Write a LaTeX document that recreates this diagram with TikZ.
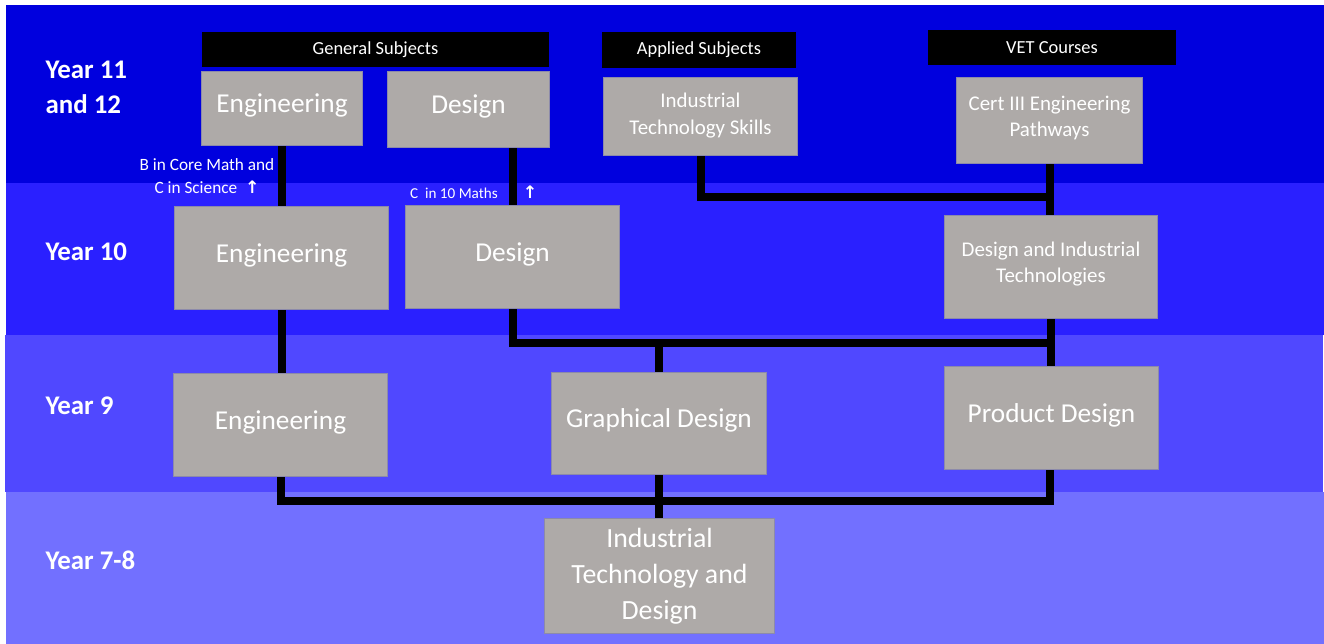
\documentclass[tikz,border=0pt]{standalone}
\usepackage{fontspec}
\setmainfont{Carlito}
\newfontfamily\symfont{DejaVu Sans}
\usepackage{tikz}
\usetikzlibrary{calc,positioning}

\definecolor{bandA}{RGB}{0,0,222}
\definecolor{bandB}{RGB}{42,32,255}
\definecolor{bandC}{RGB}{80,72,255}
\definecolor{bandD}{RGB}{114,112,255}
\definecolor{boxgray}{RGB}{174,170,168}
\definecolor{boxline}{RGB}{140,138,170}
\newcommand{\upar}{{\symfont\bfseries\char"2191}}

\begin{document}
\begin{tikzpicture}[x=1bp,y=-1bp,
  subj/.style={fill=boxgray,draw=boxline,line width=0.8bp,text=white,align=center,inner sep=0pt},
  big/.style={subj,font=\fontsize{27.4}{33}\selectfont,text depth=1.05em},
  small/.style={subj,font=\fontsize{21}{26.5}\selectfont,text depth=0.9em},
  hdr/.style={fill=black,text=white,inner sep=0pt,font=\fontsize{18.5}{22}\selectfont},
  yr/.style={anchor=west,text=white,align=left,font=\bfseries\fontsize{27}{35}\selectfont},
  note/.style={text=white,align=center,font=\fontsize{17.3}{23}\selectfont},
  link/.style={line width=8bp,line join=miter}]
  \useasboundingbox (0,0) rectangle (1324,644);
  \fill[white] (0,0) rectangle (1324,644);

  % year bands
  \fill[bandA] (6,5) rectangle (1324,183);
  \fill[bandB] (6,183) rectangle (1324,335);
  \fill[bandC] (5,335) rectangle (1323,492);
  \fill[bandD] (6,492) rectangle (1324,644);

  \node[yr] (y12) at (42,87) {Year 11\\and 12};
  \node[yr] (y10) at (42,252) {Year 10};
  \node[yr] (y9) at (42,406) {Year 9};
  \node[yr] (y78) at (42,560) {Year 7-8};

  % headers
  \node[hdr,minimum width=349,minimum height=35] (hgen) at (375.5,49.5) {General Subjects};
  \node[hdr,minimum width=194,minimum height=36] (happ) at (699,50) {Applied Subjects};
  \node[hdr,minimum width=248,minimum height=35] (hvet) at (1052,47.5) {VET Courses};

  % year 11 and 12
  \node[big,minimum width=162,minimum height=75] (eng11) at (282,108.5) {Engineering};
  \node[big,minimum width=163,minimum height=77] (des11) at (468.5,109.5) {Design};
  \node[small,text depth=0.58em,minimum width=195,minimum height=79] (its) at (700.5,116.5) {Industrial\\Technology Skills};
  \node[small,minimum width=187,minimum height=87] (cert) at (1049.5,120.5) {Cert III Engineering\\Pathways};

  % year 10
  \node[big,minimum width=215,minimum height=104] (eng10) at (281.5,258) {Engineering};
  \node[big,minimum width=215,minimum height=104] (des10) at (512.5,257) {Design};
  \node[small,minimum width=214,minimum height=104] (dit) at (1051,267) {Design and Industrial\\Technologies};

  % year 9
  \node[big,minimum width=215,minimum height=104] (eng9) at (280.5,425) {Engineering};
  \node[big,minimum width=216,minimum height=103] (gd) at (659,423.5) {Graphical Design};
  \node[big,minimum width=215,minimum height=104] (pd) at (1051.5,418) {Product Design};

  % year 7-8
  \node[subj,font=\fontsize{27.9}{36}\selectfont,minimum width=231,minimum height=116] (itd) at (659.5,576) {Industrial\\Technology and\\Design};

  % entry notes
  \node[note] (req1) at (207,176.5) {B in Core Math and\\C in Science\ \ \upar};
  \node[note,font=\fontsize{15.2}{18}\selectfont] (req2) at (454,193) {C\ \ in 10 Maths};
  \node[note] (req2a) at (530,192) {\upar};

  % pathways
  \coordinate (j1) at (1049,197);
  \coordinate (j2) at (1050,343);
  \coordinate (j3) at (1050,501);
  \draw[link] (eng11.south) -- (eng11.south |- eng10.north);
  \draw[link] (des10.north |- des11.south) -- (des10.north);
  \draw[link] (its.south) |- (j1);
  \draw[link] (cert.south) -- (cert.south |- dit.north);
  \draw[link] (eng10.south) -- (eng10.south |- eng9.north);
  \draw[link] (des10.south) |- (j2);
  \draw[link] (gd.north) -- (gd.north |- j2);
  \draw[link] (dit.south) -- (dit.south |- pd.north);
  \draw[link] (eng9.south) |- (j3) -- (j3 |- pd.south);
  \draw[link] (gd.south) -- (gd.south |- itd.north);
\end{tikzpicture}
\end{document}
